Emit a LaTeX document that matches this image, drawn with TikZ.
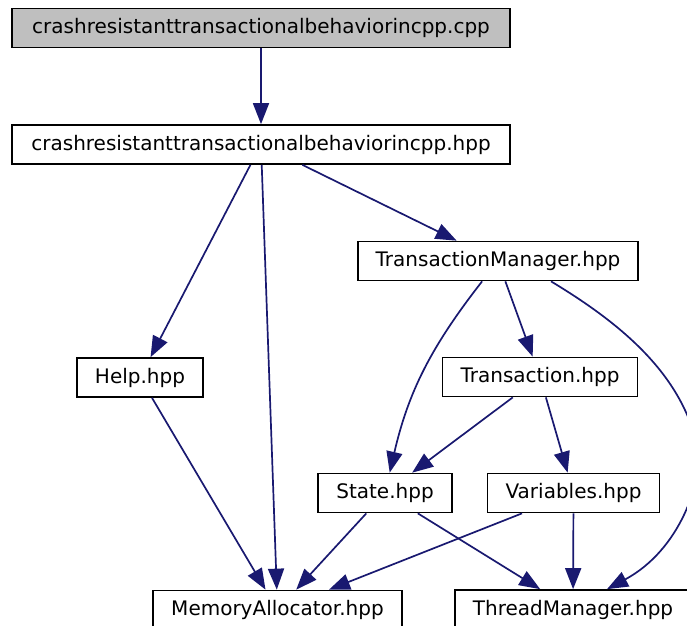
\documentclass[tikz,border=0pt]{standalone}
\usepackage{fontspec}
\setmainfont{DejaVu Sans}
\usetikzlibrary{arrows.meta}

\begin{document}
\begin{tikzpicture}[x=1pt, y=1pt,
    file/.style={draw, line width=1.7pt, fill=white, inner xsep=18pt, inner ysep=0pt, minimum height=39pt, font=\fontsize{20}{24}\selectfont},
    dep/.style={draw=edge, line width=1.7pt, -{Triangle[length=21pt, width=16pt]}}]
    \definecolor{edge}{HTML}{191970}
    \definecolor{top}{HTML}{BFBFBF}

    \useasboundingbox (0,0) rectangle (687,-625);

    \node[file, fill=top, minimum width=498pt] (cpp) at (261,-28) {crashresistanttransactionalbehaviorincpp.cpp};
    \node[file, minimum width=498pt] (hpp) at (261,-144.5) {crashresistanttransactionalbehaviorincpp.hpp};
    \node[file] (tm) at (498,-261) {TransactionManager.hpp};
    \node[file] (help) at (140,-377.5) {Help.hpp};
    \node[file] (trans) at (540,-377) {Transaction.hpp};
    \node[file] (state) at (385,-493) {State.hpp};
    \node[file] (vars) at (573.5,-493) {Variables.hpp};
    \node[file] (mem) at (277.5,-610) {MemoryAllocator.hpp};
    \node[file] (thread) at (573,-609.5) {ThreadManager.hpp};

    \path[dep] (cpp) -- (hpp);
    \path[dep] (hpp) -- (help);
    \path[dep] (hpp) -- (mem);
    \path[dep] (hpp) -- (tm);
    \path[dep] (tm) to[out=232, in=77] (state);
    \path[dep] (tm) -- (trans);
    \path[dep] ([xshift=53pt]tm.south) .. controls (615,-320) and (680,-370) .. (697,-445) .. controls (704,-480) and (680,-550) .. ([xshift=34pt]thread.north);
    \path[dep] (help) -- (mem);
    \path[dep] (trans) -- (state);
    \path[dep] (trans) -- (vars);
    \path[dep] (state) -- (mem);
    \path[dep] (state) -- (thread);
    \path[dep] (vars) -- (mem);
    \path[dep] (vars) -- (thread);

\end{tikzpicture}
\end{document}
